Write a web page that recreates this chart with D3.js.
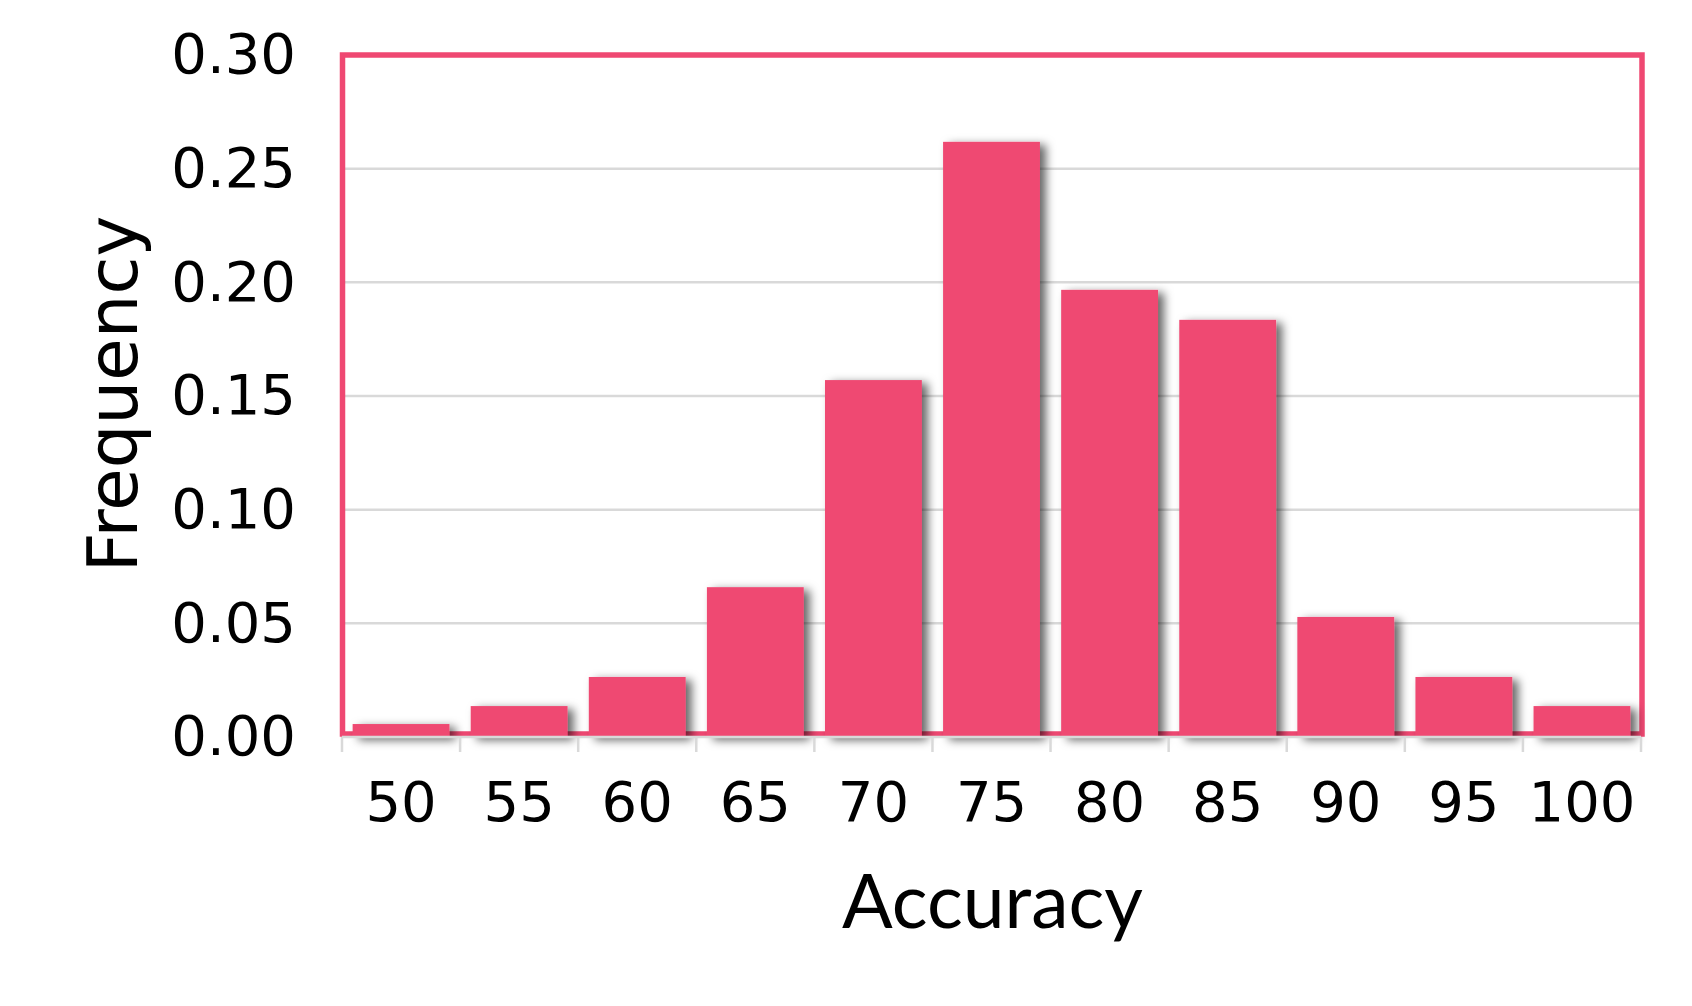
<!DOCTYPE html>
<html>
<head>
<meta charset="utf-8">
<script src="https://cdn.jsdelivr.net/npm/d3@7"></script>
<style>
html,body{margin:0;padding:0;background:#fff;}
svg{display:block;}
</style>
</head>
<body>
<svg id="chart" width="1692" height="1006"></svg>
<script>
// Data
const categories = ["50","55","60","65","70","75","80","85","90","95","100"];
const frequencies = [0.0057, 0.0136, 0.0264, 0.0659, 0.157, 0.2618, 0.1967, 0.1835, 0.0528, 0.0264, 0.0136];
const yTicks = [0, 0.05, 0.10, 0.15, 0.20, 0.25, 0.30];
const xTitle = "Accuracy";
const yTitle = "Frequency";

const W = 1692, H = 1006;
const plot = {left: 342, right: 1641, top: 55, bottom: 737};
const barColor = "#EF4872";
const gridColor = "#D9D9D9";

const svg = d3.select("#chart");

const defs = svg.append("defs");
const f = defs.append("filter").attr("id","shadow")
  .attr("x","-20%").attr("y","-20%").attr("width","150%").attr("height","140%");
f.append("feDropShadow").attr("dx",6).attr("dy",3).attr("stdDeviation",5)
  .attr("flood-color","#000").attr("flood-opacity",0.6);

const x = d3.scaleBand().domain(categories).range([plot.left, plot.right]).padding(0);
const xBar = d3.scaleBand().domain(categories).range([plot.left, plot.right])
  .paddingInner(0.18).paddingOuter(0.09);
const y = d3.scaleLinear().domain([0, 0.3]).range([plot.bottom, plot.top]);

// gridlines
svg.append("g").selectAll("line").data(yTicks.filter(v => v > 0 && v < 0.3)).join("line")
  .attr("x1", plot.left).attr("x2", plot.right)
  .attr("y1", d => y(d)).attr("y2", d => y(d))
  .attr("stroke", gridColor).attr("stroke-width", 2.5);

// frame
svg.append("rect")
  .attr("x", plot.left + 0.5).attr("y", y(0.3))
  .attr("width", plot.right + 1 - plot.left - 0.5)
  .attr("height", y(0) - 3 - y(0.3))
  .attr("fill", "none").attr("stroke", barColor).attr("stroke-width", 5.5);

// bars
svg.append("g").attr("filter","url(#shadow)")
  .selectAll("rect").data(categories).join("rect")
  .attr("x", d => xBar(d))
  .attr("width", xBar.bandwidth())
  .attr("y", (d,i) => y(frequencies[i]))
  .attr("height", (d,i) => y(0) - y(frequencies[i]))
  .attr("fill", barColor);

// x axis line and ticks at band boundaries
const boundaries = categories.map(c => x(c)).concat([plot.right]);
const xg = svg.append("g");
xg.append("line").attr("x1", plot.left).attr("x2", plot.right)
  .attr("y1", y(0)).attr("y2", y(0)).attr("stroke", gridColor).attr("stroke-width", 2.5);
xg.selectAll("line.tk").data(boundaries).join("line").attr("class","tk")
  .attr("x1", d => d).attr("x2", d => d)
  .attr("y1", y(0)).attr("y2", y(0) + 15)
  .attr("stroke", gridColor).attr("stroke-width", 2.5);

// x tick labels
const xAxis = svg.append("g").attr("transform", `translate(0,${y(0)})`)
  .call(d3.axisBottom(x).tickSize(0).tickPadding(44));
xAxis.select(".domain").remove();
xAxis.selectAll("text").attr("font-family","DejaVu Sans").attr("font-size", 56).attr("fill","#000");

// y tick labels
const yAxis = svg.append("g").attr("transform", `translate(${plot.left},0)`)
  .call(d3.axisLeft(y).tickValues(yTicks).tickFormat(d3.format(".2f")).tickSize(0).tickPadding(46));
yAxis.select(".domain").remove();
yAxis.selectAll("text").attr("font-family","DejaVu Sans").attr("font-size", 56).attr("fill","#000");

// titles
svg.append("text")
  .attr("transform", "translate(137,394) rotate(-90)")
  .attr("text-anchor","middle")
  .attr("font-family","DejaVu Sans").attr("font-size", 69).attr("fill","#000")
  .text(yTitle);

svg.append("text")
  .attr("x", (plot.left + plot.right) / 2 + 1).attr("y", 928)
  .attr("text-anchor","middle")
  .attr("font-family","Lato").attr("font-size", 75).attr("fill","#000")
  .text(xTitle);
</script>
</body>
</html>
